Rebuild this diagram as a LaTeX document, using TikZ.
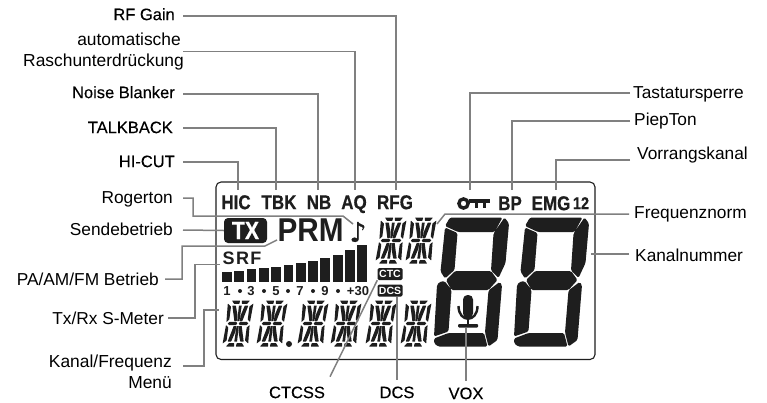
\documentclass[tikz,border=0pt]{standalone}
\usepackage{fontspec}
\setmainfont{Liberation Sans}
\newfontfamily\medfont[FakeBold=0.25]{Liberation Sans}
\newfontfamily\lcdfont[UprightFont=* Bold,FakeBold=0.5,FakeStretch=0.85]{Liberation Sans}
\newfontfamily\heavylcdfont[UprightFont=* Bold,FakeStretch=0.9]{Liberation Sans}
\newfontfamily\noteglyph[FakeBold=0.8]{DejaVu Sans}
\usepackage{tikz}
\usetikzlibrary{calc}
\definecolor{leaderGray}{RGB}{128,128,128}
\definecolor{lcdBlack}{RGB}{30,30,30}
\tikzset{
  callout/.style={font=\fontsize{17.3}{21}\selectfont, inner sep=0pt, text height=12.2pt, text depth=0pt},
  calloutMed/.style={callout, font=\fontsize{16.5}{21}\medfont},
  callblock/.style={font=\fontsize{17.4}{21}\selectfont, inner sep=0pt, align=right},
  leader/.style={draw=leaderGray, line width=1.5pt},
  lcdtext/.style={font=\fontsize{#1}{#1}\lcdfont, text=lcdBlack, inner sep=0pt, text height=.716*#1 pt, text depth=0pt},
  lcdtag/.style={fill=lcdBlack, text=white, font=\fontsize{10.5}{11}\bfseries, rounded corners=1.5pt, inner sep=0pt, minimum width=25pt, minimum height=12pt},
}
% half of a 14 segment digit
\newcommand{\halfdigit}{
  \fill[lcdBlack, rounded corners=0.4pt]
    (4,0)--(12.2,0)--(11.7,3.4)--(6.5,3.4)--cycle
    (4.4,21.3)--(11,21.3)--(12.3,23)--(11,24.7)--(4.4,24.7)--(2.7,23)--cycle
    (6.5,42.6)--(11.7,42.6)--(12.2,46)--(4,46)--cycle
    (0.2,3)--(3.8,6)--(3.8,19)--(1.2,21.5)--cycle
    (1.2,24.5)--(3.8,27)--(3.8,40)--(0.2,43)--cycle
    (5,5)--(8.5,5)--(11.5,15)--(11.5,20.5)--(9,20.5)--cycle
    (9,25.5)--(11.5,25.5)--(11.5,31)--(8.5,41)--(5,41)--cycle;
}
\tikzset{
  segdigit/.pic={
    \begin{scope}[xslant=.13]
      \halfdigit
      \begin{scope}[xshift=26pt, xscale=-1]
        \halfdigit
      \end{scope}
      \fill[lcdBlack] (11.6,5)--(14.4,5)--(14.1,20.5)--(11.9,20.5)--cycle
        (11.9,25.5)--(14.1,25.5)--(14.4,41)--(11.6,41)--cycle;
    \end{scope}
  },
  bigdigit/.pic={
    \fill[lcdBlack, rounded corners=1.5pt]
      (40,47.5)--(92.5,47.5)--(84.5,62)--(48,62)--(35,56)--cycle
      (94.5,47.5)--(99,53.5)--(95.5,93)--(88.5,108)--(81,100.5)--(83.5,63.5)--cycle
      (35,57.5)--(47.5,63)--(44.5,100)--(35,108.5)--(30.5,101.5)--cycle
      (36,110)--(45,101)--(81,101)--(87.5,110)--(78.5,120)--(41.5,120)--cycle
      (29.5,112)--(34.5,111)--(41.5,120)--(38.5,161.5)--(24,166.5)--(27,115)--cycle
      (89.5,112)--(92,115)--(87.5,170)--(78.5,176.5)--(75,162.5)--(78.5,120.5)--cycle
      (24,168.5)--(38.5,163)--(74,163)--(77.5,176.5)--(28,176.5)--(24,173)--cycle;
  },
}
\begin{document}
\begin{tikzpicture}[x=1pt, y=-1pt]
  \useasboundingbox (0,0) rectangle (767,402);
  \fill[white] (0,0) rectangle (767,402);
  % Panel
  \draw[lcdBlack, line width=1.1pt, rounded corners=5pt] (216,182) rectangle (595,359.5);
  % Flags along the top
  \node[lcdtext=20] (flagHIC) at (236,202) {HIC};
  \node[lcdtext=20] (flagTBK) at (279,202) {TBK};
  \node[lcdtext=20] (flagNB) at (319,202) {NB};
  \node[lcdtext=20] (flagAQ) at (354,202) {AQ};
  \node[lcdtext=20] (flagRFG) at (395,202) {RFG};
  \node[lcdtext=20] (flagBP) at (510,203) {BP};
  \node[lcdtext=20] (flagEMG) at (551,203) {EMG};
  \node[lcdtext=17] (flagTwelve) at (581,203) {12};
  % Key
  \draw[lcdBlack, line width=3.4pt] (463.5,203.5) circle (4.6);
  \fill[lcdBlack] (469,198.8) rectangle (490,202.8);
  \fill[lcdBlack] (475,202) rectangle (478,208);
  \fill[lcdBlack] (483,202) rectangle (486,208);
  % Mode row
  \node[fill=lcdBlack, text=white, font=\fontsize{25}{25}\lcdfont, rounded corners=4pt, inner sep=0pt, minimum width=43pt, minimum height=25pt] (flagTX) at (245.5,230.5) {TX};
  \node[font=\fontsize{33}{33}\heavylcdfont, text=lcdBlack, inner sep=0pt] (flagPRM) at (310.5,230) {PRM};
  \node[font=\fontsize{27}{27}\noteglyph, text=lcdBlack, inner sep=0pt] (flagNote) at (358,232) {♪};
  \node[font=\fontsize{18}{18}\bfseries, text=lcdBlack, inner sep=0pt] (flagSRF) at (242,258.5) {S\kern1.5pt R\kern1.5pt F};
  % S-meter bars
  \foreach \barx/\bartop in {222/271.7,234.3/270.7,246.6/269.3,258.9/267.7,271.2/266.7,283.5/265,295.8/263.3,308.1/260.7,320.4/258.3,332.7/255,345/250,357.3/245}
    \fill[lcdBlack] (\barx,\bartop) rectangle ($(\barx,282)+(9.8,0)$);
  % S-meter scale
  \foreach \scalex/\scaletext in {227/1,251/3,276/5,300/7,325/9,358/+30}
    \node[font=\fontsize{13}{13}\bfseries, text=lcdBlack, inner sep=0pt] (scale\scaletext) at (\scalex,291) {\scaletext};
  \foreach \dotx in {240,264,288,313,338}
    \fill[lcdBlack] (\dotx,291) circle (2);
  \node[lcdtag] (tagCTC) at (390,274) {CTC};
  \node[lcdtag] (tagDCS) at (390,290.5) {DCS};
  % Segment digits
  \pic at (381,217.5) {segdigit};
  \pic at (411,217.5) {segdigit};
  \foreach \digitx in {228,262,303,336,371,406}
    \pic at (\digitx,300.5) {segdigit};
  \fill[lcdBlack] (289,344) circle (3);
  \pic at (410,170) {bigdigit};
  \pic at (490,170) {bigdigit};
  % Microphone
  \fill[lcdBlack, rounded corners=4.5pt] (463,295) rectangle (473,318);
  \draw[lcdBlack, line width=2.4pt] (458.5,306) .. controls (458.5,323) and (477.5,323) .. (477.5,306);
  \fill[lcdBlack] (466.8,319) rectangle (469.2,325);
  \fill[lcdBlack, rounded corners=1pt] (458,324) rectangle (478,327.5);
  \coordinate (micBase) at (466,328);
  % Labels on the left
  \node[calloutMed, anchor=east] (rfgain) at (175,14) {RF Gain};
  \node[callblock, anchor=east] (squelch) at (184,51.5) {automatische\hspace*{3pt}\\Raschunterdrückung};
  \node[calloutMed, anchor=east] (noiseblanker) at (175,92) {Noise Blanker};
  \node[calloutMed, anchor=east] (talkback) at (173,127) {TALKBACK};
  \node[calloutMed, anchor=east] (hicut) at (175,161) {HI-CUT};
  \node[callout, anchor=east] (rogerton) at (173,197) {Rogerton};
  \node[callout, anchor=east] (sendebetrieb) at (173,229) {Sendebetrieb};
  \node[callout, anchor=east] (modus) at (159,279) {PA/AM/FM Betrieb};
  \node[callout, anchor=east] (smeter) at (164,318) {Tx/Rx S-Meter};
  \node[callblock, anchor=east] (menue) at (172,372) {Kanal/Frequenz\\Menü};
  % Labels on the right
  \node[callout, anchor=west] (tastatur) at (633,92) {Tastatursperre};
  \node[callout, anchor=west] (piepton) at (634,119) {PiepTon};
  \node[callout, anchor=west] (vorrang) at (637,153) {Vorrangskanal};
  \node[callout, anchor=west] (frequenz) at (634,212) {Frequenznorm};
  \node[callout, anchor=west] (kanal) at (635,255) {Kanalnummer};
  % Labels below
  \node[calloutMed] (ctcss) at (297,392) {CTCSS};
  \node[calloutMed] (dcs) at (397,392) {DCS};
  \node[calloutMed] (vox) at (466,393) {VOX};
  % Free ends
  \coordinate (tipRF) at (396,190);
  \coordinate (tipSquelch) at (355,190);
  \coordinate (tipNB) at (318,190);
  \coordinate (tipTBK) at (276,190);
  \coordinate (tipHIC) at (238,190);
  \coordinate (tipKey) at (470,190);
  \coordinate (tipBP) at (512,190);
  \coordinate (tipEMG) at (556,190);
  \coordinate (tipNote) at (353,224);
  \coordinate (tipPRM) at (277,240);
  \coordinate (tipSRF) at (220,264.5);
  \coordinate (tipSeg) at (219,310);
  \coordinate (tipFreq) at (437,224);
  \coordinate (tipKanal) at (591,254);
  % Leaders
  \draw[leader] ([xshift=8pt,yshift=-2pt]rfgain.east) -| (tipRF);
  \draw[leader] ([xshift=-1pt]squelch.east) -| (tipSquelch);
  \draw[leader] ([xshift=8pt,yshift=-2pt]noiseblanker.east) -| (tipNB);
  \draw[leader] ([xshift=10pt,yshift=-1pt]talkback.east) -| (tipTBK);
  \draw[leader] ([xshift=8pt,yshift=-1pt]hicut.east) -| (tipHIC);
  \draw[leader] ([xshift=10pt,yshift=-1pt]rogerton.east) -| (193,216) -- (343,216) -- (tipNote);
  \draw[leader] ([xshift=10pt,yshift=-1pt]sendebetrieb.east) -- (flagTX.west);
  \draw[leader] ([xshift=6pt]modus.east) -| (182,246) -- (265,246) -- (tipPRM);
  \draw[leader] ([xshift=4pt]smeter.east) -| (195,264.5) -- (tipSRF);
  \draw[leader] ([xshift=11pt,yshift=6pt]menue.east) -| (204,310) -- (tipSeg);
  \draw[leader] ([xshift=-3pt,yshift=-1pt]tastatur.west) -| (tipKey);
  \draw[leader] ([xshift=-4pt,yshift=-2pt]piepton.west) -| (tipBP);
  \draw[leader] ([xshift=-7pt,yshift=-7pt]vorrang.west) -| (tipEMG);
  \draw[leader] ([xshift=-5pt,yshift=-2pt]frequenz.west) -- (445,214) -- (tipFreq);
  \draw[leader] ([xshift=-6pt,yshift=1pt]kanal.west) -- (tipKanal);
  \draw[leader] ([xshift=33pt,yshift=9pt]ctcss.north) -- (tagCTC.south west);
  \draw[leader] ([yshift=6pt]dcs.north) -- (dcs.north |- tagDCS.south);
  \draw[leader] ([yshift=6pt]vox.north) -- (micBase);
\end{tikzpicture}
\end{document}
